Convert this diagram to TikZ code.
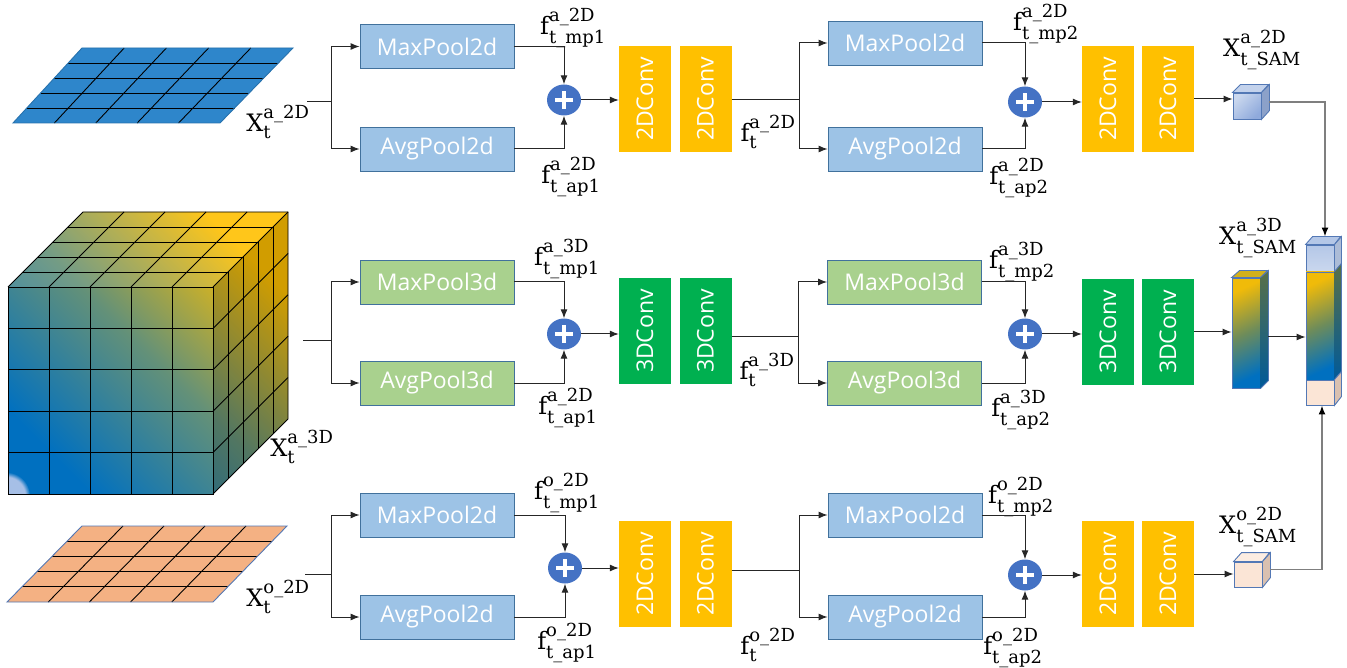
\documentclass[tikz,border=0pt]{standalone}
\usepackage{fontspec}
\usepackage{amsmath}
\usepackage{graphicx}
\setmainfont{DejaVu Serif}
\newfontfamily\boxfont{Open Sans}
\DeclareMathSizes{24}{24}{18}{14}
\usetikzlibrary{arrows.meta,calc,shapes.geometric,fadings}

\definecolor{poolblue}{HTML}{9DC3E6}
\definecolor{poolgreen}{HTML}{A9D18E}
\definecolor{poolline}{HTML}{41719C}
\definecolor{convyellow}{HTML}{FFC000}
\definecolor{convgreen}{HTML}{00B050}
\definecolor{plusblue}{HTML}{4472C4}
\definecolor{gridblue}{HTML}{2E86CB}
\definecolor{gridpeach}{HTML}{F4B183}
\definecolor{cubeblue}{HTML}{0070C0}
\definecolor{cubegold}{HTML}{FFC000}
\definecolor{cubemid}{RGB}{100,145,120}
\definecolor{colmid}{RGB}{110,140,90}
\definecolor{cubeedge}{HTML}{5378B5}
\definecolor{wire}{HTML}{7F7F7F}
\definecolor{samblue}{HTML}{B4C7E7}
\definecolor{samblueD}{HTML}{8FAADC}
\definecolor{sampeach}{HTML}{FBE5D6}
\definecolor{sampeachD}{HTML}{D9C0B0}

\tikzset{
  pool/.style={draw=poolline, line width=0.8pt, minimum width=154pt, minimum height=44pt,
    inner sep=0pt, text=white, font=\boxfont\fontsize{23}{26}\selectfont},
  pool2/.style={pool, fill=poolblue},
  pool3/.style={pool, fill=poolgreen},
  conv/.style={minimum width=52pt, minimum height=106pt, inner sep=0pt, text=white,
    font=\boxfont\fontsize{23}{26}\selectfont},
  conv2/.style={conv, fill=convyellow},
  conv3/.style={conv, fill=convgreen},
  plusnode/.style={ellipse, fill=plusblue, minimum width=34pt, minimum height=31pt, inner sep=0pt,
    path picture={
      \draw[white, line width=3.4pt]
        ([xshift=-9pt]path picture bounding box.center) -- ([xshift=9pt]path picture bounding box.center);
      \draw[white, line width=3.4pt]
        ([yshift=-9pt]path picture bounding box.center) -- ([yshift=9pt]path picture bounding box.center);}},
  ln/.style={line width=1pt, draw=black!85},
  arr/.style={ln, -{Latex[length=9pt,width=7pt]}},
  wirearr/.style={line width=1.6pt, draw=wire, -{Latex[length=9pt,width=7pt,color=black]}},
  gridline/.style={line width=0.9pt, draw=black},
  lab/.style={inner sep=0pt, font=\fontsize{24}{26}\selectfont},
  face/.style={draw=cubeedge, line width=0.9pt, inner sep=0pt},
}

\begin{document}
\begin{tikzpicture}[x=1pt,y=-1pt]
\useasboundingbox (0,0) rectangle (1347,668);

% ---------- flat 2D input grids ----------
\coordinate (gA1) at (82,48);  \coordinate (gA2) at (293,48);
\coordinate (gA3) at (220,123); \coordinate (gA4) at (13,123);
\fill[gridblue] (gA1) -- (gA2) -- (gA3) -- (gA4) -- cycle;
\foreach \t in {0.2,0.4,0.6,0.8} {
  \draw[gridline] ($(gA4)!\t!(gA1)$) -- ($(gA3)!\t!(gA2)$);
  \draw[gridline] ($(gA4)!\t!(gA3)$) -- ($(gA1)!\t!(gA2)$);
}
\draw[draw=gridblue!85!black, line width=0.9pt] (gA1) -- (gA2) -- (gA3) -- (gA4) -- cycle;

\coordinate (gC1) at (82,526);  \coordinate (gC2) at (287,526);
\coordinate (gC3) at (213,602); \coordinate (gC4) at (7,602);
\fill[gridpeach] (gC1) -- (gC2) -- (gC3) -- (gC4) -- cycle;
\foreach \t in {0.2,0.4,0.6,0.8} {
  \draw[gridline] ($(gC4)!\t!(gC1)$) -- ($(gC3)!\t!(gC2)$);
  \draw[gridline] ($(gC4)!\t!(gC3)$) -- ($(gC1)!\t!(gC2)$);
}
\draw[draw=cubeedge, line width=0.9pt] (gC1) -- (gC2) -- (gC3) -- (gC4) -- cycle;

% ---------- 3D input cube ----------
\shade[top color=cubegold, bottom color=cubeblue, middle color=cubemid, shading angle=-45]
  (8,494) -- (8,287) -- (83,212) -- (288,212) -- (288,419) -- (213,494) -- cycle;
\fill[black, opacity=0.18] (213,287) -- (288,212) -- (288,419) -- (213,494) -- cycle;
\fill[white, opacity=0.10] (8,287) -- (83,212) -- (288,212) -- (213,287) -- cycle;
\begin{scope}
  \clip (8,287) rectangle (213,494);
  \fill[color={rgb,255:red,185;green,200;blue,235}, opacity=0.9,
    path fading=circle with fuzzy edge 20 percent] (6,496) circle (24);
\end{scope}
\foreach \i in {1,...,4} {
  \draw[gridline] (8+41*\i,287) -- (8+41*\i,494);
  \draw[gridline] (8,287+41.4*\i) -- (213,287+41.4*\i);
  \draw[gridline] (8+15*\i,287-15*\i) -- (213+15*\i,287-15*\i);
  \draw[gridline] (8+41*\i,287) -- (83+41*\i,212);
  \draw[gridline] (213+15*\i,287-15*\i) -- (213+15*\i,494-15*\i);
  \draw[gridline] (213,287+41.4*\i) -- (288,212+41.4*\i);
}
\draw[gridline] (8,287) rectangle (213,494);
\draw[gridline] (8,287) -- (83,212) -- (288,212) -- (288,419) -- (213,494);
\draw[gridline] (213,287) -- (288,212);

% ---------- input labels ----------
\node[lab] (xa) at (278,122) {$\text{X}^{\text{a\_2D}}_{\text{t}}$};
\node[lab] (xb) at (302,447) {$\text{X}^{\text{a\_3D}}_{\text{t}}$};
\node[lab] (xc) at (278,597) {$\text{X}^{\text{o\_2D}}_{\text{t}}$};

% ================= top branch (a_2D) =================
\node[pool2] (mp1a) at (437,46.5) {MaxPool2d};
\node[pool2] (ap1a) at (437,149) {AvgPool2d};
\node[plusnode] (pl1a) at (564,100) {};
\node[conv2] (c1a) at (645,99) {\rotatebox{90}{2DConv}};
\node[conv2] (c2a) at (705.5,99) {\rotatebox{90}{2DConv}};
\node[pool2] (mp2a) at (905,43) {MaxPool2d};
\node[pool2] (ap2a) at (905,149) {AvgPool2d};
\node[plusnode] (pl2a) at (1025,102) {};
\node[conv2] (c3a) at (1108,99) {\rotatebox{90}{2DConv}};
\node[conv2] (c4a) at (1168,99) {\rotatebox{90}{2DConv}};

\node[lab] (fa1) at (573,28) {$\text{f}^{\text{a\_2D}}_{\text{t\_mp1}}$};
\node[lab] (fa2) at (571,177) {$\text{f}^{\text{a\_2D}}_{\text{t\_ap1}}$};
\node[lab] (fa3) at (768,132) {$\text{f}^{\text{a\_2D}}_{\text{t}}$};
\node[lab] (fa4) at (1046,24) {$\text{f}^{\text{a\_2D}}_{\text{t\_mp2}}$};
\node[lab] (fa5) at (1019,178) {$\text{f}^{\text{a\_2D}}_{\text{t\_ap2}}$};

\coordinate (inA) at (307,102);
\coordinate (sA) at (331,102);
\draw[ln] (inA) -- (sA);
\draw[arr] (sA) |- (mp1a.west);
\draw[arr] (sA) |- (ap1a.west);
\draw[arr] (mp1a.east) -| (pl1a.north);
\draw[arr] (ap1a.east) -| (pl1a.south);
\draw[arr] (pl1a.east) -- (c1a.west |- pl1a.east);
\coordinate (bA) at (799,100);
\draw[ln] (c2a.east |- bA) -- (bA);
\draw[arr] (bA) |- (mp2a.west);
\draw[arr] (bA) |- (ap2a.west);
\draw[arr] (mp2a.east) -| (pl2a.north);
\draw[arr] (ap2a.east) -| (pl2a.south);
\draw[arr] (pl2a.east) -- (c3a.west |- pl2a.east);

% small output cube (a_2D)
\node[face, minimum width=28pt, minimum height=26pt, top color=samblue!70!white, bottom color=samblueD,
  shading angle=45] (qa) at (1247,106) {};
\filldraw[face, fill=samblue!80!white] (qa.north west) -- ++(8,-8) -- ++(28,0) -- (qa.north east) -- cycle;
\filldraw[face, fill=samblueD!80!gray] (qa.north east) -- ++(8,-8) -- ++(0,26) -- (qa.south east) -- cycle;
\draw[arr] (c4a.east) -- (c4a.east -| qa.west);
\node[lab] (sama) at (1262,50) {$\text{X}^{\text{a\_2D}}_{\text{t\_SAM}}$};

% ================= middle branch (a_3D) =================
\node[pool3] (mp1b) at (437,282) {MaxPool3d};
\node[pool3] (ap1b) at (437,383) {AvgPool3d};
\node[plusnode] (pl1b) at (564,334) {};
\node[conv3] (c1b) at (645,331) {\rotatebox{90}{3DConv}};
\node[conv3] (c2b) at (705.5,331) {\rotatebox{90}{3DConv}};
\node[pool3] (mp2b) at (904.5,282) {MaxPool3d};
\node[pool3] (ap2b) at (904.5,383) {AvgPool3d};
\node[plusnode] (pl2b) at (1025,334) {};
\node[conv3] (c3b) at (1108,332) {\rotatebox{90}{3DConv}};
\node[conv3] (c4b) at (1168,332) {\rotatebox{90}{3DConv}};

\node[lab] (fb1) at (567,259) {$\text{f}^{\text{a\_3D}}_{\text{t\_mp1}}$};
\node[lab] (fb2) at (568,408) {$\text{f}^{\text{a\_2D}}_{\text{t\_ap1}}$};
\node[lab] (fb3) at (767,370) {$\text{f}^{\text{a\_3D}}_{\text{t}}$};
\node[lab] (fb4) at (1022,262) {$\text{f}^{\text{a\_3D}}_{\text{t\_mp2}}$};
\node[lab] (fb5) at (1021,410) {$\text{f}^{\text{a\_3D}}_{\text{t\_ap2}}$};

\coordinate (inB) at (303,341);
\coordinate (sB) at (331,341);
\draw[ln] (inB) -- (sB);
\draw[arr] (sB) |- (mp1b.west);
\draw[arr] (sB) |- (ap1b.west);
\draw[arr] (mp1b.east) -| (pl1b.north);
\draw[arr] (ap1b.east) -| (pl1b.south);
\draw[arr] (pl1b.east) -- (c1b.west |- pl1b.east);
\coordinate (bB) at (798,337);
\draw[ln] (c2b.east |- bB) -- (bB);
\draw[arr] (bB) |- (mp2b.west);
\draw[arr] (bB) |- (ap2b.west);
\draw[arr] (mp2b.east) -| (pl2b.north);
\draw[arr] (ap2b.east) -| (pl2b.south);
\draw[arr] (pl2b.east) -- (c3b.west |- pl2b.east);

% output column (a_3D)
\node[face, minimum width=28pt, minimum height=110pt, top color=cubegold!90!colmid, bottom color=cubeblue,
  middle color=colmid, shading angle=25] (colB) at (1246,333) {};
\filldraw[face, fill=cubegold!70!colmid] (colB.north west) -- ++(8,-7) -- ++(28,0) -- (colB.north east) -- cycle;
\shade[top color=colmid!80!black, bottom color=cubeblue!80!black] (colB.north east) -- ++(8,-7) -- ++(0,110) -- (colB.south east) -- cycle;
\draw[face] (colB.north east) -- ++(8,-7) -- ++(0,110) -- (colB.south east);
\draw[arr] (c4b.east) -- (c4b.east -| colB.west);
\node[lab] (samb) at (1258,238) {$\text{X}^{\text{a\_3D}}_{\text{t\_SAM}}$};

% ================= bottom branch (o_2D) =================
\node[pool2] (mp1c) at (437,515) {MaxPool2d};
\node[pool2] (ap1c) at (437,617) {AvgPool2d};
\node[plusnode] (pl1c) at (565,568) {};
\node[conv2] (c1c) at (645,574) {\rotatebox{90}{2DConv}};
\node[conv2] (c2c) at (705.5,574) {\rotatebox{90}{2DConv}};
\node[pool2] (mp2c) at (905,515) {MaxPool2d};
\node[pool2] (ap2c) at (905,617) {AvgPool2d};
\node[plusnode] (pl2c) at (1025,575) {};
\node[conv2] (c3c) at (1108,574) {\rotatebox{90}{2DConv}};
\node[conv2] (c4c) at (1168,574) {\rotatebox{90}{2DConv}};

\node[lab] (fc1) at (567,493) {$\text{f}^{\text{o\_2D}}_{\text{t\_mp1}}$};
\node[lab] (fc2) at (567,643) {$\text{f}^{\text{o\_2D}}_{\text{t\_ap1}}$};
\node[lab] (fc3) at (768,645) {$\text{f}^{\text{o\_2D}}_{\text{t}}$};
\node[lab] (fc4) at (1021,497) {$\text{f}^{\text{o\_2D}}_{\text{t\_mp2}}$};
\node[lab] (fc5) at (1013,648) {$\text{f}^{\text{o\_2D}}_{\text{t\_ap2}}$};

\coordinate (inC) at (305,574);
\coordinate (sC) at (331,574);
\draw[ln] (inC) -- (sC);
\draw[arr] (sC) |- (mp1c.west);
\draw[arr] (sC) |- (ap1c.west);
\draw[arr] (mp1c.east) -| (pl1c.north);
\draw[arr] (ap1c.east) -| (pl1c.south);
\draw[arr] (pl1c.east) -- (c1c.west |- pl1c.east);
\coordinate (bC) at (799,570);
\draw[ln] (c2c.east |- bC) -- (bC);
\draw[arr] (bC) |- (mp2c.west);
\draw[arr] (bC) |- (ap2c.west);
\draw[arr] (mp2c.east) -| (pl2c.north);
\draw[arr] (ap2c.east) -| (pl2c.south);
\draw[arr] (pl2c.east) -- (c3c.west |- pl2c.east);

% small output cube (o_2D)
\node[face, minimum width=28pt, minimum height=25pt, fill=sampeach] (qc) at (1248,574.5) {};
\filldraw[face, fill=sampeach!70!white] (qc.north west) -- ++(8,-9) -- ++(28,0) -- (qc.north east) -- cycle;
\filldraw[face, fill=sampeachD] (qc.north east) -- ++(8,-9) -- ++(0,25) -- (qc.south east) -- cycle;
\draw[arr] (c4c.east) -- (c4c.east -| qc.west);
\node[lab] (samc) at (1258,527) {$\text{X}^{\text{o\_2D}}_{\text{t\_SAM}}$};

% ================= concatenated stack =================
\node[face, minimum width=28pt, minimum height=27pt, top color=samblue, bottom color=samblue!70!white] (stB) at (1320,258.5) {};
\node[face, minimum width=28pt, minimum height=108pt, top color=cubegold!90!colmid, bottom color=cubeblue,
  middle color=colmid, shading angle=25] (stM) at (1320,326) {};
\node[face, minimum width=28pt, minimum height=25pt, fill=sampeach] (stO) at (1320,392.5) {};
\filldraw[face, fill=samblue] (stB.north west) -- ++(7,-8) -- ++(28,0) -- (stB.north east) -- cycle;
\filldraw[face, fill=samblue!85!gray] (stB.north east) -- ++(7,-8) -- ++(0,27) -- (stB.south east) -- cycle;
\shade[top color=colmid!80!black, bottom color=cubeblue!80!black] (stM.north east) -- ++(7,-8) -- ++(0,108) -- (stM.south east) -- cycle;
\draw[face] (stM.north east) -- ++(7,-8) -- ++(0,108) -- (stM.south east);
\filldraw[face, fill=sampeachD] (stO.north east) -- ++(7,-8) -- ++(0,25) -- (stO.south east) -- cycle;

\coordinate (colBout) at ($(colB.east)+(8,4)$);
\draw[arr] (colBout) -- (colBout -| stM.west);

\coordinate (qaOut) at ($(qa.east)+(8,-4)$);
\coordinate (stTop) at ($(stB.north)+(5,-8)$);
\draw[wirearr] (qaOut) -| (stTop);
\coordinate (qcOut) at ($(qc.east)+(8,-5)$);
\coordinate (stBot) at ($(stO.south)+(2,0)$);
\draw[wirearr] (qcOut) -| (stBot);

\end{tikzpicture}
\end{document}
